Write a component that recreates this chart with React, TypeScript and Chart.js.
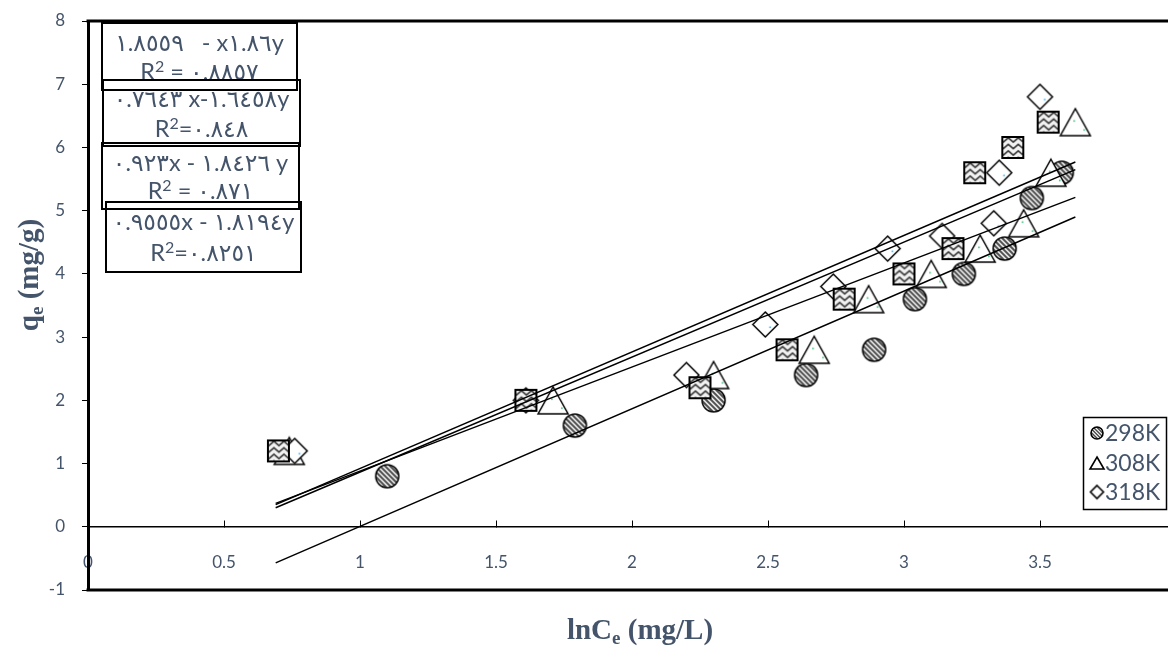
import React, { useEffect, useRef } from "react";
import { Chart, registerables } from "chart.js";

Chart.register(...registerables);

// ---- data ----
const X_298 = [1.1, 1.79, 2.3, 2.64, 2.89, 3.04, 3.22, 3.37, 3.47, 3.58];
const Y_298 = [0.8, 1.6, 2.0, 2.4, 2.8, 3.6, 4.0, 4.4, 5.2, 5.6];
const X_308 = [0.74, 1.71, 2.3, 2.67, 2.87, 3.1, 3.28, 3.44, 3.54, 3.63];
const Y_308 = [1.2, 2.0, 2.4, 2.8, 3.6, 4.0, 4.4, 4.8, 5.6, 6.4];
const X_318 = [0.76, 1.61, 2.2, 2.49, 2.74, 2.94, 3.14, 3.33, 3.35, 3.5];
const Y_318 = [1.2, 2.0, 2.4, 3.2, 3.8, 4.4, 4.6, 4.8, 5.6, 6.8];
const X_SQ = [0.7, 1.61, 2.25, 2.57, 2.78, 3.0, 3.18, 3.26, 3.4, 3.53];
const Y_SQ = [1.2, 2.0, 2.2, 2.8, 3.6, 4.0, 4.4, 5.6, 6.0, 6.4];

const TREND_X = [0.69, 3.63];
const TREND_A = [-0.57, 4.9];
const TREND_B = [0.37, 5.21];
const TREND_C = [0.35, 5.77];
const TREND_D = [0.3, 5.65];

const LEGEND_LABELS = ["298K", "308K", "318K"];
const EQ_LINES = [
  "١.٨٥٥٩   - x١.٨٦y",
  "٠.٧٦٤٣ x-١.٦٤٥٨y",
  "٠.٩٢٣x - ١.٨٤٢٦ y",
  "٠.٩٥٥٥x - ١.٨١٩٤y",
];
const R2_LINES = ["R² = ٠.٨٨٥٧", "R²=٠.٨٤٨", "R² = ٠.٨٧١", "R²=٠.٨٢٥١"];

const X_TITLE = ["lnC", "e", " (mg/L)"];
const Y_TITLE = ["q", "e", " (mg/g)"];

const TEXT_COLOR = "#44546A";

const pts = (xs: number[], ys: number[]) => xs.map((x, i) => ({ x, y: ys[i] }));

// ---- marker images ----
function mk(w: number, h: number) {
  const c = document.createElement("canvas");
  c.width = w;
  c.height = h;
  return [c, c.getContext("2d") as CanvasRenderingContext2D] as const;
}

function makeCircle(d: number, lw: number, step: number) {
  const s = Math.ceil(d + 4);
  const [c, g] = mk(s, s);
  const cx = s / 2;
  g.save();
  g.beginPath();
  g.arc(cx, cx, d / 2, 0, Math.PI * 2);
  g.fillStyle = "#fff";
  g.fill();
  g.clip();
  g.strokeStyle = "#4a4a4a";
  g.lineWidth = step * 0.4;
  for (let k = -s; k < 2 * s; k += step) {
    g.beginPath();
    g.moveTo(k, 0);
    g.lineTo(k + s, s);
    g.stroke();
  }
  g.restore();
  g.beginPath();
  g.arc(cx, cx, d / 2, 0, Math.PI * 2);
  g.strokeStyle = "#000";
  g.lineWidth = lw;
  g.stroke();
  return c;
}

function makeSquare(side: number, lw: number) {
  const s = Math.ceil(side + 4);
  const [c, g] = mk(s, s);
  const o = (s - side) / 2;
  g.save();
  g.beginPath();
  g.rect(o, o, side, side);
  g.fillStyle = "#f2f2f2";
  g.fill();
  g.clip();
  g.strokeStyle = "#3c3c3c";
  g.lineWidth = 1.6;
  for (let y0 = o + 3; y0 < o + side + 4; y0 += 6.5) {
    g.beginPath();
    let up = true;
    for (let x = o - 4; x <= o + side + 6; x += 5) {
      const y = y0 + (up ? -2.2 : 2.2);
      if (x === o - 4) g.moveTo(x, y);
      else g.lineTo(x, y);
      up = !up;
    }
    g.stroke();
  }
  g.restore();
  g.strokeStyle = "#000";
  g.lineWidth = lw;
  g.strokeRect(o, o, side, side);
  return c;
}

function makeTriangle(w: number, h: number, lw: number, dots: boolean) {
  const cw = Math.ceil(w + 4);
  const ch = Math.ceil(h + 4);
  const [c, g] = mk(cw, ch);
  const cx = cw / 2;
  const top = (ch - h) / 2;
  g.beginPath();
  g.moveTo(cx, top);
  g.lineTo(cx + w / 2, top + h);
  g.lineTo(cx - w / 2, top + h);
  g.closePath();
  g.fillStyle = "#fff";
  g.fill();
  if (dots) {
    g.fillStyle = "#3cc47a";
    g.fillRect(cx - 2, ch / 2 - 2, 1.6, 1.6);
    g.fillRect(cx + 8, ch / 2 + 7, 1.6, 1.6);
  }
  g.strokeStyle = "#000";
  g.lineWidth = lw;
  g.stroke();
  return c;
}

function makeDiamond(d: number, lw: number, dots: boolean) {
  const s = Math.ceil(d + 4);
  const [c, g] = mk(s, s);
  const cx = s / 2;
  const r = d / 2;
  g.beginPath();
  g.moveTo(cx, cx - r);
  g.lineTo(cx + r, cx);
  g.lineTo(cx, cx + r);
  g.lineTo(cx - r, cx);
  g.closePath();
  g.fillStyle = "#fff";
  g.fill();
  if (dots) {
    g.fillStyle = "#3bb4f0";
    g.fillRect(cx + 4, cx + 2, 1.6, 1.6);
  }
  g.strokeStyle = "#000";
  g.lineWidth = lw;
  g.stroke();
  return c;
}

function drawSubTitle(
  ctx: CanvasRenderingContext2D,
  parts: string[],
  cx: number,
  cy: number,
  size: number,
  rotate: boolean
) {
  const fam = '"Liberation Serif", "Times New Roman", serif';
  const mainF = `bold ${size}px ${fam}`;
  const subF = `bold ${Math.round(size * 0.65)}px ${fam}`;
  ctx.save();
  ctx.translate(cx, cy);
  if (rotate) ctx.rotate(-Math.PI / 2);
  ctx.fillStyle = TEXT_COLOR;
  ctx.textBaseline = "alphabetic";
  ctx.textAlign = "left";
  const fonts = [mainF, subF, mainF];
  const widths = parts.map((p, i) => {
    ctx.font = fonts[i];
    return ctx.measureText(p).width;
  });
  const total = widths.reduce((a, b) => a + b, 0);
  let x = -total / 2;
  const base = size * 0.33;
  parts.forEach((p, i) => {
    ctx.font = fonts[i];
    ctx.fillText(p, x, i === 1 ? base + size * 0.2 : base);
    x += widths[i];
  });
  ctx.restore();
}

// draws a line of text centred at cx, rendering "²" as a raised small "2"
function drawEqText(ctx: CanvasRenderingContext2D, s: string, cx: number, cy: number, size: number) {
  const fam = 'Lato, "DejaVu Sans", sans-serif';
  const mainF = `${size}px ${fam}`;
  const supF = `${Math.round(size * 0.66)}px ${fam}`;
  const segs = s.split("²");
  const parts: { t: string; sup: boolean }[] = [];
  segs.forEach((t, i) => {
    if (i > 0) parts.push({ t: "2", sup: true });
    if (t) parts.push({ t, sup: false });
  });
  ctx.textAlign = "left";
  ctx.textBaseline = "alphabetic";
  const widths = parts.map((p) => {
    ctx.font = p.sup ? supF : mainF;
    return ctx.measureText(p.t).width;
  });
  const total = widths.reduce((a, b) => a + b, 0);
  let x = cx - total / 2;
  const base = cy + size * 0.36;
  parts.forEach((p, i) => {
    ctx.font = p.sup ? supF : mainF;
    ctx.fillText(p.t, x, p.sup ? base - size * 0.36 : base);
    x += widths[i];
  });
}

export default function App() {
  const ref = useRef<HTMLCanvasElement | null>(null);

  useEffect(() => {
    document.body.style.margin = "0";
    const canvas = ref.current;
    if (!canvas) return;

    const circImg = makeCircle(23, 1.5, 5);
    const triImg = makeTriangle(30, 27, 1.5, true);
    const diaImg = makeDiamond(25, 1.5, true);
    const sqImg = makeSquare(21, 2);

    const legCirc = makeCircle(12, 1.6, 3.6);
    const legTri = makeTriangle(14, 12, 1.6, false);
    const legDia = makeDiamond(13, 1.6, false);
    const legendImgs = [legCirc, legTri, legDia];

    const overlay = {
      id: "overlay",
      afterDraw(chart: any) {
        const ctx: CanvasRenderingContext2D = chart.ctx;
        const a = chart.chartArea;
        ctx.save();
        // plot frame
        ctx.strokeStyle = "#000";
        ctx.lineWidth = 3;
        ctx.beginPath();
        ctx.moveTo(a.left - 1.5, a.top);
        ctx.lineTo(a.right, a.top);
        ctx.lineTo(a.right, a.bottom);
        ctx.lineTo(a.left - 1.5, a.bottom);
        ctx.stroke();

        // equation boxes
        const boxes = [
          [102, 23, 195, 67],
          [103, 80, 197, 66],
          [102, 143, 197, 66],
          [106, 202, 195, 70],
        ];
        const l1 = [43, 99, 163, 222];
        const l2 = [72, 129, 191, 253];
        boxes.forEach((b, i) => {
          ctx.fillStyle = "#fff";
          ctx.fillRect(b[0], b[1], b[2], b[3]);
          ctx.fillStyle = TEXT_COLOR;
          const cx = b[0] + b[2] / 2;
          drawEqText(ctx, EQ_LINES[i], cx, l1[i], 23.5);
          drawEqText(ctx, R2_LINES[i], cx, l2[i], 23.5);
        });
        ctx.strokeStyle = "#000";
        ctx.lineWidth = 2;
        boxes.forEach((b) => ctx.strokeRect(b[0], b[1], b[2], b[3]));

        // legend
        ctx.fillStyle = "#fff";
        ctx.fillRect(1083.5, 417.5, 83, 92);
        ctx.lineWidth = 1.5;
        ctx.strokeStyle = "#000";
        ctx.strokeRect(1083.5, 417.5, 83, 92);
        const ly = [433, 463, 492];
        ctx.font = "23px Lato, sans-serif";
        ctx.textAlign = "left";
        ctx.textBaseline = "middle";
        ctx.fillStyle = TEXT_COLOR;
        LEGEND_LABELS.forEach((lab, i) => {
          const im = legendImgs[i];
          ctx.drawImage(im, 1097 - im.width / 2, ly[i] - im.height / 2);
          ctx.fillText(lab, 1105, ly[i] + 1);
        });

        // axis titles
        drawSubTitle(ctx, X_TITLE, 640, 629, 29, false);
        drawSubTitle(ctx, Y_TITLE, 28, 275, 29, true);
        ctx.restore();
      },
    };

    const trend = (ys: number[]) => ({
      data: pts(TREND_X, ys),
      showLine: true,
      borderColor: "#000",
      borderWidth: 1.5,
      pointRadius: 0,
      order: 0,
    });

    const chart = new Chart(canvas, {
      type: "scatter",
      data: {
        datasets: [
          trend(TREND_A),
          trend(TREND_B),
          trend(TREND_C),
          trend(TREND_D),
          { label: "sq", data: pts(X_SQ, Y_SQ), pointStyle: sqImg as any, pointRadius: 10, order: 1 },
          { label: "318K", data: pts(X_318, Y_318), pointStyle: diaImg as any, pointRadius: 10, order: 2 },
          { label: "308K", data: pts(X_308, Y_308), pointStyle: triImg as any, pointRadius: 10, order: 3 },
          { label: "298K", data: pts(X_298, Y_298), pointStyle: circImg as any, pointRadius: 10, order: 4 },
        ] as any,
      },
      options: {
        responsive: false,
        animation: false,
        layout: { padding: { left: 0, top: 21, right: 14, bottom: 56 } },
        plugins: { legend: { display: false }, tooltip: { enabled: false } },
        scales: {
          x: {
            type: "linear",
            min: 0,
            max: 4,
            position: { y: 0 } as any,
            ticks: {
              stepSize: 0.5,
              color: TEXT_COLOR,
              font: { family: "Lato", size: 17 },
              padding: 33,
              maxRotation: 0,
              autoSkip: false,
              callback: (v: any) => String(Number(v)),
            },
            grid: {
              display: true,
              drawOnChartArea: false,
              drawTicks: true,
              tickLength: -7,
              tickColor: "#000",
              tickWidth: 1,
            },
            border: { display: true, color: "#000", width: 1.5 },
            afterFit: (s: any) => {
              s.paddingLeft = 0;
              s.paddingRight = 0;
            },
          },
          y: {
            type: "linear",
            min: -1,
            max: 8,
            position: "left",
            ticks: {
              stepSize: 1,
              color: TEXT_COLOR,
              font: { family: "Lato", size: 17 },
              padding: 17,
              callback: (v: any) => String(Number(v)),
            },
            grid: {
              drawOnChartArea: false,
              tickLength: 6,
              tickColor: "#000",
              tickWidth: 1,
            },
            border: { display: true, color: "#000", width: 3 },
            afterFit: (s: any) => {
              s.width = 88;
              s.paddingTop = 0;
              s.paddingBottom = 0;
            },
          },
        },
      } as any,
      plugins: [overlay],
    });

    return () => chart.destroy();
  }, []);

  return (
    <div style={{ width: 1168, height: 646, overflow: "hidden", position: "relative", background: "#fff" }}>
      <canvas ref={ref} width={1190} height={646} style={{ display: "block" }} />
    </div>
  );
}
